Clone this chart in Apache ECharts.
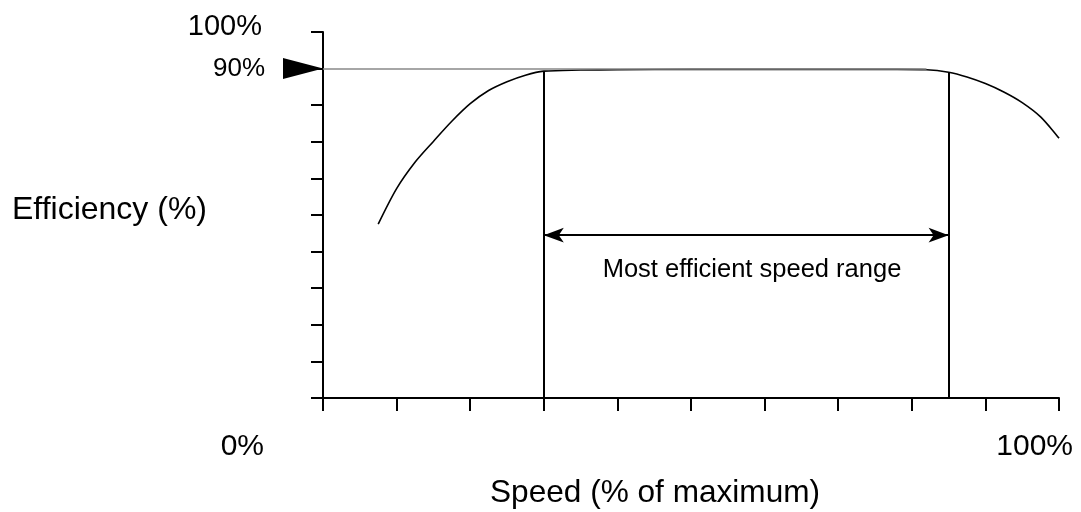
<!DOCTYPE html>
<html>
<head>
<meta charset="utf-8">
<script src="https://cdn.jsdelivr.net/npm/echarts@6/dist/echarts.min.js"></script>
<style>html,body{margin:0;padding:0;background:#fff}#c{width:1081px;height:512px}</style>
</head>
<body>
<div id="c"></div>
<script>
// Efficiency curve (speed % , efficiency %)
var speed = [7.5, 10, 12.5, 15, 17.5, 20, 22.5, 25, 27.5, 30, 35, 40, 50, 60, 70, 78, 82, 85, 87.5, 90, 92.5, 95, 97.5, 100];
var efficiency = [47.5, 57.2, 64.4, 70.1, 75.6, 80.4, 84.0, 86.4, 88.2, 89.3, 89.6, 89.7, 89.8, 89.8, 89.8, 89.8, 89.7, 89.0, 87.7, 85.9, 83.6, 80.7, 76.8, 71.0];
// Most efficient range bounds
var rangeX = [30, 85];
var rangeTop = [89.3, 89.0];
var arrowY = 44.5;
var refLevel = 90;
var refLineEnd = 82;
var yTickLabels = ['100%', '90%'];
var xTickLabels = ['0%', '100%'];
var xTitle = 'Speed (% of maximum)';
var yTitle = 'Efficiency (%)';
var rangeLabel = 'Most efficient speed range';

var FONT = 'Liberation Sans, Arial, sans-serif';
var chart = echarts.init(document.getElementById('c'));
var curve = speed.map(function (s, i) { return [s, efficiency[i]]; });

function txt(t, x, y, size, align) {
  return { type: 'text', x: x, y: y, style: { text: t, x: 0, y: 0, fill: '#000', font: size + 'px ' + FONT, textAlign: align, textVerticalAlign: 'middle' } };
}

chart.setOption({
  animation: false,
  backgroundColor: '#fff',
  grid: { left: 323, right: 22, top: 32, bottom: 114 },
  xAxis: {
    type: 'value', min: 0, max: 100, interval: 10,
    axisLine: { onZero: false, lineStyle: { color: '#000', width: 2 } },
    axisTick: { inside: false, length: 13, lineStyle: { color: '#000', width: 2 } },
    axisLabel: { show: false }, splitLine: { show: false }
  },
  yAxis: {
    type: 'value', min: 0, max: 100, interval: 10,
    axisLine: { show: true, onZero: false, lineStyle: { color: '#000', width: 2 } },
    axisTick: { show: true, inside: false, length: 12, lineStyle: { color: '#000', width: 2 } },
    axisLabel: { show: false }, splitLine: { show: false }
  },
  series: [
    {
      type: 'line', data: curve, smooth: 0.3, symbol: 'none', clip: false,
      lineStyle: { color: '#000', width: 1.6 },
      z: 3
    },
    {
      type: 'line', data: [], clip: false, symbol: 'none',
      markLine: {
        silent: true, symbol: ['none', 'none'], label: { show: false },
        lineStyle: { color: '#888', width: 1.5, type: 'solid' },
        data: [[{ coord: [0, refLevel] }, { coord: [refLineEnd, refLevel] }]]
      },
      markPoint: {
        silent: true,
        data: [{ coord: [0, refLevel], symbol: 'triangle', symbolSize: [21, 40], symbolRotate: -90, symbolOffset: [-20, 0], itemStyle: { color: '#000' }, label: { show: false } }]
      },
      z: 2
    },
    {
      type: 'line', data: [], clip: false, symbol: 'none',
      markLine: {
        silent: true, symbol: ['none', 'none'], label: { show: false },
        lineStyle: { color: '#000', width: 2, type: 'solid' },
        data: [
          [{ coord: [rangeX[0], 0] }, { coord: [rangeX[0], rangeTop[0]] }],
          [{ coord: [rangeX[1], 0] }, { coord: [rangeX[1], rangeTop[1]] }]
        ]
      },
      z: 4
    },
    {
      type: 'line', data: [], clip: false, symbol: 'none',
      markLine: {
        silent: true, symbol: ['arrow', 'arrow'], symbolSize: [11, 20], label: { show: false },
        lineStyle: { color: '#000', width: 2, type: 'solid' },
        data: [[{ coord: [rangeX[0], arrowY] }, { coord: [rangeX[1], arrowY] }]]
      },
      z: 4
    }
  ],
  graphic: [
    txt(yTickLabels[0], 262, 27, 29, 'right'),
    txt(yTickLabels[1], 265, 69, 26, 'right'),
    txt(yTitle, 12, 210, 32, 'left'),
    txt(xTickLabels[0], 264, 447, 30, 'right'),
    txt(xTickLabels[1], 1073, 447, 30, 'right'),
    txt(xTitle, 490, 493, 31.6, 'left'),
    txt(rangeLabel, 752, 270, 25.5, 'center')
  ]
});
</script>
</body>
</html>
